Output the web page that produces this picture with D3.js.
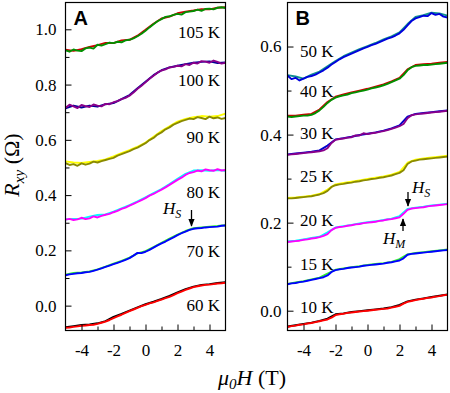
<!DOCTYPE html>
<html><head><meta charset="utf-8">
<script src="https://cdn.jsdelivr.net/npm/d3@7"></script>
<style>body{margin:0;background:#fff}svg{display:block}</style>
</head><body><svg id="c" width="450" height="393"></svg>
<script>
// ---------- DATA ----------
const fieldsFine = [-5,-4.75,-4.5,-4.25,-4,-3.75,-3.5,-3.25,-3,-2.75,-2.5,-2.25,-2,-1.75,-1.5,-1.25,-1,-0.75,-0.5,-0.25,0,0.25,0.5,0.75,1,1.25,1.5,1.75,2,2.25,2.5,2.75,3,3.25,3.5,3.75,4,4.25,4.5,4.75,5];
const fieldsCoarse = [-5,-4.5,-4,-3.5,-3,-2.5,-2,-1.5,-1,-0.5,0,0.5,1,1.5,2,2.5,3,3.5,4,4.5,5];

const labelsA = ["105 K","100 K","90 K","80 K","70 K","60 K"];
const labelsB = ["50 K","40 K","30 K","25 K","20 K","15 K","10 K"];
const ticksA = [0.0,0.2,0.4,0.6,0.8,1.0];
const ticksB = [0.0,0.2,0.4,0.6];
const ticksX = [-4,-2,0,2,4];

// Panel A, main sweeps (0.25 T grid)
const a105 = [0.924,0.919,0.927,0.923,0.921,0.931,0.934,0.930,0.944,0.941,0.946,0.952,0.950,0.955,0.953,0.960,0.962,0.967,0.975,0.984,0.995,1.007,1.018,1.029,1.037,1.045,1.047,1.052,1.056,1.053,1.062,1.064,1.066,1.071,1.067,1.074,1.075,1.072,1.078,1.080,1.077];
const a100 = [0.716,0.727,0.721,0.715,0.726,0.722,0.719,0.728,0.724,0.721,0.730,0.729,0.736,0.740,0.747,0.752,0.760,0.771,0.785,0.796,0.808,0.821,0.832,0.843,0.851,0.855,0.862,0.864,0.868,0.866,0.874,0.871,0.879,0.876,0.885,0.883,0.879,0.887,0.882,0.876,0.879];
const a90  = [0.516,0.509,0.512,0.506,0.515,0.510,0.514,0.521,0.518,0.523,0.527,0.531,0.535,0.543,0.548,0.554,0.559,0.566,0.572,0.580,0.588,0.599,0.607,0.619,0.627,0.638,0.645,0.655,0.661,0.668,0.672,0.677,0.675,0.682,0.679,0.675,0.684,0.678,0.681,0.676,0.679];
const a80  = [0.311,0.314,0.310,0.312,0.318,0.313,0.316,0.323,0.319,0.325,0.329,0.332,0.338,0.343,0.350,0.355,0.362,0.368,0.375,0.382,0.389,0.398,0.404,0.412,0.420,0.428,0.437,0.446,0.455,0.463,0.473,0.480,0.483,0.489,0.486,0.493,0.490,0.488,0.494,0.489,0.491];
const a70  = [0.110,0.113,0.115,0.117,0.118,0.121,0.122,0.126,0.130,0.135,0.140,0.145,0.150,0.155,0.160,0.166,0.172,0.181,0.191,0.190,0.195,0.202,0.210,0.218,0.225,0.232,0.240,0.247,0.255,0.262,0.268,0.274,0.278,0.280,0.281,0.283,0.284,0.285,0.286,0.289,0.290];
const a60  = [-0.080,-0.079,-0.077,-0.075,-0.073,-0.072,-0.070,-0.069,-0.066,-0.062,-0.058,-0.052,-0.045,-0.039,-0.033,-0.026,-0.020,-0.014,-0.008,-0.002,0.003,0.008,0.012,0.017,0.022,0.027,0.032,0.038,0.045,0.051,0.057,0.062,0.067,0.070,0.073,0.075,0.076,0.078,0.080,0.081,0.083];
// Panel A, other sweeps (0.5 T grid)
const a105b = [0.926,0.922,0.928,0.936,0.943,0.951,0.950,0.960,0.962,0.977,0.998,1.020,1.039,1.046,1.058,1.064,1.068,1.073,1.072,1.078,1.080];
const a100b = [0.714,0.724,0.717,0.724,0.720,0.729,0.733,0.747,0.762,0.787,0.810,0.834,0.852,0.862,0.868,0.874,0.879,0.882,0.884,0.878,0.880];
const a90b  = [0.522,0.518,0.516,0.520,0.524,0.529,0.540,0.552,0.563,0.575,0.590,0.611,0.632,0.649,0.666,0.676,0.682,0.686,0.684,0.686,0.695];
const a80b  = [0.312,0.314,0.315,0.322,0.328,0.330,0.340,0.352,0.364,0.377,0.392,0.407,0.422,0.440,0.459,0.477,0.489,0.490,0.488,0.491,0.488];
const a70b  = [0.112,0.118,0.120,0.124,0.131,0.141,0.152,0.162,0.174,0.189,0.197,0.212,0.227,0.243,0.257,0.270,0.280,0.283,0.286,0.288,0.291];
const a60b  = [-0.078,-0.074,-0.070,-0.068,-0.064,-0.056,-0.041,-0.030,-0.018,-0.006,0.005,0.014,0.024,0.035,0.048,0.060,0.069,0.075,0.078,0.082,0.085];

// Panel B, main sweeps (0.25 T grid)
const b50 = [0.534,0.526,0.529,0.523,0.527,0.531,0.533,0.536,0.541,0.546,0.552,0.559,0.565,0.571,0.576,0.580,0.584,0.588,0.592,0.596,0.599,0.603,0.606,0.610,0.614,0.618,0.621,0.625,0.630,0.638,0.648,0.658,0.664,0.667,0.670,0.669,0.676,0.672,0.674,0.668,0.666];
const b40 = [0.441,0.440,0.441,0.442,0.443,0.443,0.445,0.449,0.455,0.463,0.472,0.479,0.484,0.487,0.489,0.491,0.494,0.496,0.498,0.500,0.502,0.505,0.507,0.509,0.512,0.515,0.519,0.523,0.527,0.535,0.546,0.553,0.556,0.557,0.558,0.558,0.559,0.560,0.561,0.562,0.563];
const b30 = [0.354,0.355,0.356,0.357,0.358,0.359,0.360,0.361,0.362,0.364,0.369,0.381,0.388,0.390,0.391,0.393,0.394,0.398,0.398,0.403,0.401,0.403,0.404,0.406,0.408,0.410,0.413,0.416,0.419,0.424,0.437,0.444,0.446,0.447,0.448,0.449,0.450,0.451,0.452,0.453,0.454];
const b25 = [0.255,0.255,0.256,0.257,0.258,0.259,0.260,0.262,0.264,0.267,0.272,0.281,0.285,0.287,0.288,0.290,0.291,0.293,0.294,0.296,0.297,0.299,0.300,0.302,0.303,0.305,0.307,0.310,0.313,0.319,0.333,0.339,0.341,0.343,0.344,0.345,0.346,0.347,0.348,0.349,0.350];
const b20 = [0.156,0.157,0.158,0.159,0.161,0.162,0.164,0.165,0.167,0.170,0.174,0.183,0.188,0.190,0.191,0.193,0.194,0.196,0.197,0.199,0.200,0.201,0.202,0.204,0.205,0.207,0.208,0.210,0.212,0.220,0.229,0.232,0.233,0.234,0.235,0.237,0.238,0.239,0.240,0.241,0.242];
const b15 = [0.060,0.062,0.063,0.065,0.066,0.068,0.070,0.072,0.074,0.076,0.080,0.088,0.092,0.094,0.095,0.097,0.098,0.099,0.100,0.102,0.103,0.104,0.105,0.106,0.107,0.109,0.110,0.112,0.114,0.119,0.127,0.129,0.130,0.131,0.132,0.133,0.134,0.135,0.136,0.137,0.138];
const b10 = [-0.037,-0.035,-0.034,-0.032,-0.031,-0.029,-0.028,-0.026,-0.024,-0.022,-0.020,-0.016,-0.010,-0.008,-0.007,-0.005,-0.004,-0.003,-0.002,-0.001,0.000,0.001,0.002,0.003,0.004,0.005,0.007,0.009,0.011,0.016,0.020,0.022,0.024,0.026,0.027,0.029,0.030,0.032,0.033,0.035,0.036];
// Panel B, other sweeps (0.5 T grid)
const b50b = [0.535,0.532,0.527,0.536,0.543,0.555,0.567,0.578,0.586,0.594,0.601,0.608,0.616,0.623,0.632,0.651,0.667,0.671,0.677,0.675,0.670];
const b40b = [0.443,0.443,0.445,0.447,0.457,0.474,0.486,0.491,0.496,0.500,0.504,0.509,0.514,0.521,0.529,0.548,0.558,0.560,0.561,0.563,0.565];
const b30b = [0.355,0.357,0.359,0.361,0.364,0.375,0.389,0.392,0.395,0.399,0.402,0.405,0.409,0.414,0.421,0.441,0.447,0.449,0.451,0.453,0.455];
const b25b = [0.256,0.257,0.259,0.261,0.265,0.275,0.287,0.290,0.293,0.296,0.299,0.302,0.305,0.309,0.315,0.336,0.343,0.346,0.348,0.350,0.352];
const b20b = [0.157,0.159,0.162,0.165,0.168,0.178,0.189,0.192,0.195,0.198,0.201,0.203,0.206,0.209,0.215,0.231,0.234,0.236,0.239,0.241,0.243];
const b15b = [0.061,0.064,0.067,0.071,0.075,0.084,0.093,0.096,0.099,0.101,0.104,0.106,0.108,0.111,0.117,0.128,0.131,0.133,0.135,0.137,0.139];
const b10b = [-0.036,-0.033,-0.030,-0.027,-0.023,-0.018,-0.008,-0.006,-0.003,-0.001,0.001,0.003,0.005,0.008,0.013,0.021,0.025,0.028,0.031,0.034,0.037];

// ---------- STYLE ----------
const serif = "Liberation Serif, Times New Roman, serif";
const sans = "Liberation Sans, Arial, sans-serif";
const seriesA = [
  {main:a105, back:a105b, c1:"#009000", c2:"#cc0000"},
  {main:a100, back:a100b, c1:"#8a008a", c2:"#000099"},
  {main:a90,  back:a90b,  c1:"#8a8a00", c2:"#ffff00"},
  {main:a80,  back:a80b,  c1:"#ff00ff", c2:"#00ffff"},
  {main:a70,  back:a70b,  c1:"#0000ff", c2:"#33ee33"},
  {main:a60,  back:a60b,  c1:"#ff0000", c2:"#000000"}
];
const seriesB = [
  {main:b50, back:b50b, c1:"#0000dd", c2:"#109090"},
  {main:b40, back:b40b, c1:"#009000", c2:"#cc0000"},
  {main:b30, back:b30b, c1:"#8a008a", c2:"#0000cc"},
  {main:b25, back:b25b, c1:"#8a8a00", c2:"#ffff00"},
  {main:b20, back:b20b, c1:"#ff00ff", c2:"#00ffff"},
  {main:b15, back:b15b, c1:"#0000ff", c2:"#33ee33"},
  {main:b10, back:b10b, c1:"#ff0000", c2:"#000000"}
];
const labelPosA = [38,86,143,198,257,311];
const labelPosB = [57,97,139,182,226,270,313];

const svg = d3.select("#c");
const defs = svg.append("defs");
defs.append("marker").attr("id","ah").attr("viewBox","0 0 10 10").attr("refX",9).attr("refY",5)
  .attr("markerWidth",6).attr("markerHeight",6).attr("orient","auto")
  .append("path").attr("d","M0,1 L10,5 L0,9 Z").attr("fill","#000");

function panel(opts){
  const x = d3.scaleLinear().domain([-5,5]).range([opts.left, opts.right]);
  const y = d3.scaleLinear().domain(opts.ydom).range([330.5, 2.5]);
  const g = svg.append("g");
  const cid = "clip"+opts.name;
  defs.append("clipPath").attr("id",cid).append("rect")
    .attr("x",opts.left).attr("y",2.5).attr("width",opts.right-opts.left).attr("height",328);
  const lines = g.append("g").attr("clip-path","url(#"+cid+")");
  const line = d3.line().x(d=>x(d[0])).y(d=>y(d[1]));
  opts.series.forEach(s=>{
    lines.append("path").datum(fieldsCoarse.map((f,i)=>[f,s.back[i]]))
      .attr("d",line).attr("fill","none").attr("stroke",s.c2).attr("stroke-width",1.9).attr("stroke-linejoin","round");
  });
  opts.series.forEach(s=>{
    lines.append("path").datum(fieldsFine.map((f,i)=>[f,s.main[i]]))
      .attr("d",line).attr("fill","none").attr("stroke",s.c1).attr("stroke-width",1.9).attr("stroke-linejoin","round");
  });
  g.append("g").attr("transform","translate("+opts.left+",0)")
    .call(d3.axisLeft(y).tickValues(opts.yticks).tickFormat(d3.format(".1f")).tickSize(-6).tickPadding(opts.ypad));
  g.append("g").attr("transform","translate("+opts.left+",0)")
    .call(d3.axisLeft(y).tickValues(opts.yminor).tickFormat("").tickSize(-4));
  g.append("g").attr("transform","translate(0,330.5)")
    .call(d3.axisBottom(x).tickValues(ticksX).tickFormat(d=>String(d)).tickSize(-6).tickPadding(13));
  g.append("g").attr("transform","translate(0,330.5)")
    .call(d3.axisBottom(x).tickValues([-3,-1,1,3]).tickFormat("").tickSize(-4));
  g.selectAll(".domain").remove();
  g.selectAll(".tick line").attr("stroke","#000");
  g.selectAll(".tick text").style("font-family",serif).style("font-size","17px").attr("fill","#000");
  g.append("rect").attr("x",opts.left).attr("y",2.5).attr("width",opts.right-opts.left).attr("height",328)
    .attr("fill","none").attr("stroke","#000").attr("stroke-width",1.2);
  g.append("text").attr("x",opts.left+8).attr("y",25).text(opts.name)
    .style("font-family",sans).style("font-weight","bold").style("font-size","20px");
  opts.labels.forEach((t,i)=>{
    g.append("text").attr("x",opts.labelX).attr("y",opts.labelY[i]).attr("text-anchor",opts.anchor)
      .style("font-family",serif).style("font-size","17px").text(t);
  });
  return {x,y,g};
}

panel({name:"A", left:65.5, right:225.5, ydom:[-0.09,1.097], yticks:ticksA,
  yminor:[0.1,0.3,0.5,0.7,0.9], ypad:9, series:seriesA, labels:labelsA, labelX:220, labelY:labelPosA, anchor:"end"});
panel({name:"B", left:287.5, right:447.5, ydom:[-0.045,0.70], yticks:ticksB,
  yminor:[0.1,0.3,0.5], ypad:6, series:seriesB, labels:labelsB, labelX:300, labelY:labelPosB, anchor:"start"});

function hlabel(x0,yb,sub){
  const t = svg.append("text").attr("x",x0).attr("y",yb).style("font-family",serif).style("font-size","17px").style("font-style","italic");
  t.append("tspan").text("H");
  t.append("tspan").style("font-size","12px").attr("dy",4).text(sub);
}
function arrow(x0,y0,y1){
  svg.append("line").attr("x1",x0).attr("x2",x0).attr("y1",y0).attr("y2",y1)
    .attr("stroke","#000").attr("stroke-width",1.3).attr("marker-end","url(#ah)");
}
hlabel(163,214,"S"); arrow(191.5,210,226);
hlabel(412,193,"S"); arrow(408,192,206);
hlabel(383,244,"M"); arrow(403,231,219);

const yl = svg.append("text").attr("transform","translate(19,165) rotate(-90)").attr("text-anchor","middle")
  .style("font-family",serif).style("font-size","22px");
yl.append("tspan").style("font-style","italic").text("R");
yl.append("tspan").style("font-style","italic").style("font-size","15px").attr("dy",5).text("xy");
yl.append("tspan").attr("dy",-5).text(" (Ω)");

const xl = svg.append("text").attr("x",252).attr("y",385).attr("text-anchor","middle")
  .style("font-family",serif).style("font-size","22px");
xl.append("tspan").style("font-style","italic").text("μ");
xl.append("tspan").style("font-style","italic").style("font-size","15px").attr("dy",4).text("0");
xl.append("tspan").style("font-style","italic").attr("dy",-4).text("H");
xl.append("tspan").text(" (T)");
</script></body></html>
